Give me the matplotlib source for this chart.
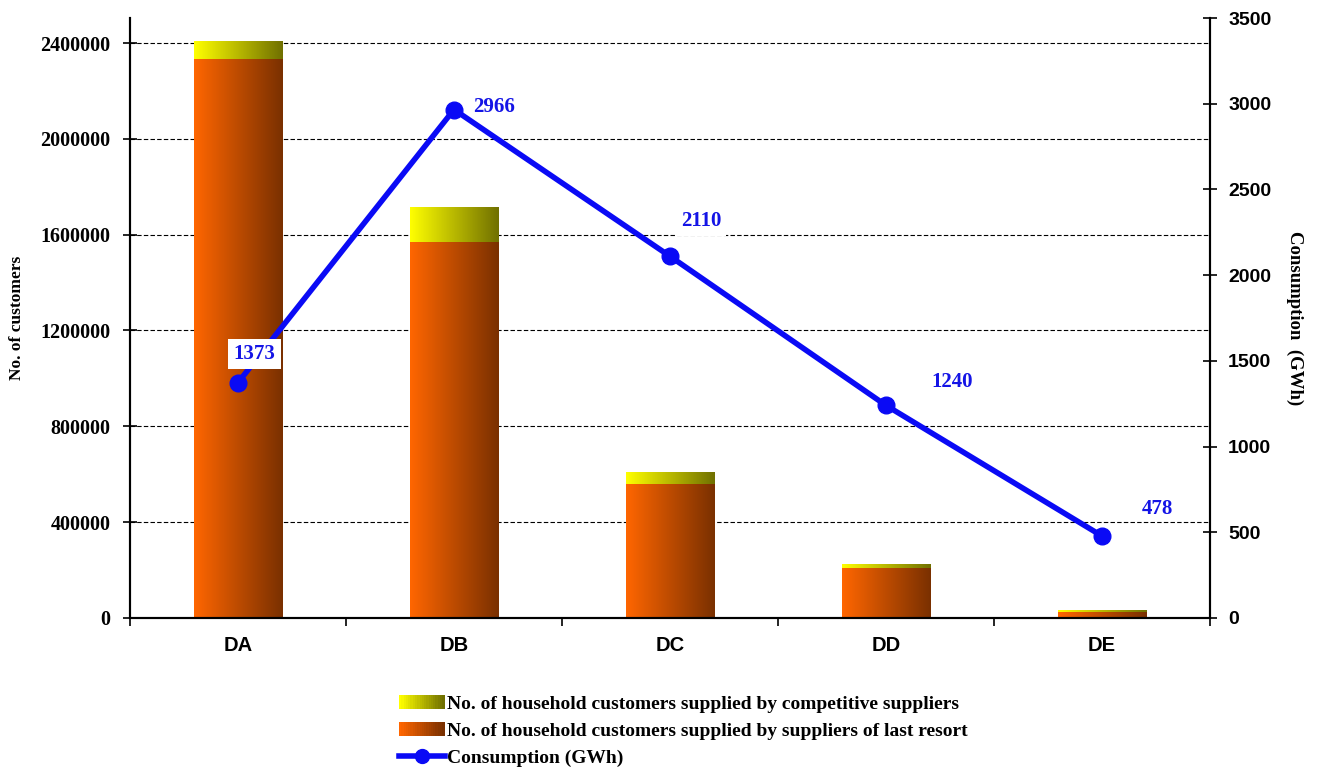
import numpy as np
import matplotlib.pyplot as plt
from matplotlib.colors import LinearSegmentedColormap
from matplotlib.legend_handler import HandlerBase
from matplotlib.lines import Line2D
from matplotlib.patches import Rectangle

regions = ['DA', 'DB', 'DC', 'DD', 'DE']
last_resort = [2333000, 1569000, 559000, 210000, 25000]
competitive = [72000, 146000, 46000, 15000, 8000]
consumption = [1373, 2966, 2110, 1240, 478]
left_ticks = [0, 400000, 800000, 1200000, 1600000, 2000000, 2400000]
right_ticks = [0, 500, 1000, 1500, 2000, 2500, 3000, 3500]

lr_cmap = LinearSegmentedColormap.from_list('lr', ['#ff6600', '#7a3000'])
comp_cmap = LinearSegmentedColormap.from_list('comp', ['#ffff00', '#707000'])
serif = 'Liberation Serif'
sans = 'Liberation Sans'

fig = plt.figure(figsize=(13.21, 7.67), dpi=100)
ax = fig.add_axes([0.0984, 0.1943, 0.8176, 0.7822])
ax2 = ax.twinx()
ax.set_zorder(1)
ax2.set_zorder(2)
ax.patch.set_visible(False)

x = np.arange(len(regions))
width = 0.41
grad = np.linspace(0, 1, 256).reshape(1, -1)


def gradient_bars(bars, cmap):
    for b in bars:
        b.set_facecolor('none')
        b.set_edgecolor('none')
        x0, y0 = b.get_x(), b.get_y()
        ax.imshow(grad, cmap=cmap, aspect='auto', interpolation='bicubic',
                  extent=(x0, x0 + b.get_width(), y0, y0 + b.get_height()), zorder=2)


b1 = ax.bar(x, last_resort, width)
b2 = ax.bar(x, competitive, width, bottom=last_resort)
gradient_bars(b1, lr_cmap)
gradient_bars(b2, comp_cmap)

ax.set_xlim(-0.5, len(regions) - 0.5)
ax.set_ylim(0, 2504348)
ax.set_yticks(left_ticks)
ax.set_yticklabels([str(t) for t in left_ticks], fontfamily=serif, fontweight='bold', fontsize=14.5)
ax.yaxis.grid(True, linestyle=(0, (4, 2)), color='black', linewidth=0.8)
ax.set_axisbelow(True)
ax.tick_params(axis='y', direction='inout', length=10, width=1.2, pad=9)
ax.set_xticks(x)
ax.set_xticklabels(regions, fontfamily=sans, fontweight='bold', fontsize=14.5)
ax.tick_params(axis='x', length=0, pad=13)
ax.set_xticks(np.arange(-0.5, len(regions)), minor=True)
ax.tick_params(axis='x', which='minor', direction='out', length=6, width=1.2)
ax.set_ylabel('No. of customers', fontfamily=serif, fontweight='bold', fontsize=12.5, labelpad=11)

ax2.plot(x, consumption, color='#0a0af5', linewidth=4, marker='o', markersize=12)
ax2.set_ylim(0, 3500)
ax2.set_yticks(right_ticks)
ax2.set_yticklabels([str(t) for t in right_ticks], fontfamily=sans, fontweight='bold', fontsize=14)
ax2.tick_params(axis='y', direction='inout', length=10, width=1.2, pad=8)
ax2.set_ylabel('Consumption  (GWh)', fontfamily=serif, fontweight='bold', fontsize=13.5,
               rotation=270, labelpad=23)

offsets = [(-0.02, 167, True), (0.09, 15, False), (0.05, 206, True), (0.21, 137, False), (0.185, 158, False)]
for xi, v, (dx, dy, box) in zip(x, consumption, offsets):
    kw = dict(boxstyle='square,pad=0.25', fc='white', ec='none') if box else None
    ax2.text(xi + dx, v + dy, str(v), color='#1414e6', fontfamily=serif, fontweight='bold',
             fontsize=15, ha='left', va='center', bbox=kw, zorder=5)

for a in (ax, ax2):
    for s in a.spines.values():
        s.set_linewidth(1.5)
ax.spines['top'].set_visible(False)
ax2.spines['top'].set_visible(False)


class GradHandler(HandlerBase):
    def __init__(self, cmap):
        super().__init__()
        self.cmap = cmap

    def create_artists(self, legend, orig, xd, yd, w, h, fs, trans):
        n = 20
        arts = []
        for i in range(n):
            r = Rectangle((xd + w * i / n, yd), w / n + 0.3, h, facecolor=self.cmap(i / (n - 1)),
                          edgecolor='none', transform=trans)
            arts.append(r)
        return arts


h_comp = Rectangle((0, 0), 1, 1)
h_lr = Rectangle((0, 0), 1, 1)
h_line = Line2D([], [], color='#0a0af5', linewidth=4, marker='o', markersize=10)
fig.legend([h_comp, h_lr, h_line],
           ['No. of household customers supplied by competitive suppliers',
            'No. of household customers supplied by suppliers of last resort',
            'Consumption (GWh)'],
           handler_map={h_comp: GradHandler(comp_cmap), h_lr: GradHandler(lr_cmap)},
           loc='upper left', bbox_to_anchor=(0.302, 0.094), frameon=False,
           prop={'family': serif, 'weight': 'bold', 'size': 14},
           handlelength=2.35, handleheight=0.7, handletextpad=0.1, labelspacing=0.5,
           borderaxespad=0, borderpad=0)

fig.savefig('out.png', dpi=100)
